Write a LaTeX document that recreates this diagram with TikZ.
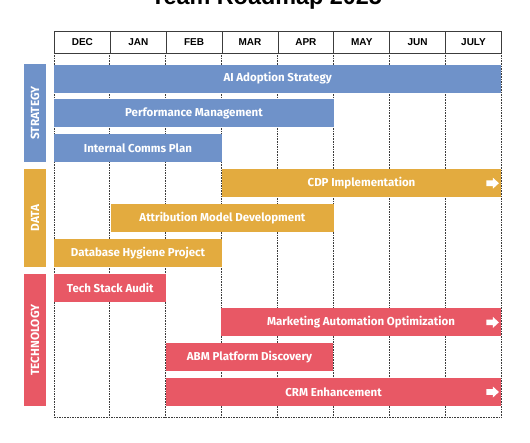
\documentclass[tikz,border=0pt]{standalone}
\usepackage{fontspec}
\setmainfont{Liberation Sans}
\newfontfamily\barfont{Fira Sans}
\definecolor{stratblue}{RGB}{111,146,201}
\definecolor{datagold}{RGB}{227,171,63}
\definecolor{techred}{RGB}{232,88,101}
\definecolor{gridgray}{RGB}{60,60,60}
\begin{document}
\begin{tikzpicture}[x=1pt,y=-1pt,
  bar/.style={rectangle, inner sep=0pt, minimum height=28pt, text=white,
    font=\barfont\bfseries\fontsize{11.5}{13.5}\selectfont, anchor=north west},
  category/.style={rectangle, inner sep=0pt, minimum height=22.3pt, text=white,
    rotate=90, font=\barfont\bfseries\fontsize{11.8}{13}\selectfont},
  month/.style={rectangle, draw=gridgray, line width=0.9pt, fill=white, inner sep=0pt,
    minimum width=55.875pt, minimum height=21.5pt, anchor=north west,
    font=\bfseries\fontsize{10}{12}\selectfont},
  gridline/.style={draw=gridgray, line width=0.8pt, dash pattern=on 1.6pt off 1pt},
  arrowtip/.pic={\fill[white] (0,0) -- (-6,-5.5) -- (-6,-2.8) -- (-12.5,-2.8)
      -- (-12.5,2.8) -- (-6,2.8) -- (-6,5.5) -- cycle;}
]
\useasboundingbox (0,0) rectangle (530,442);
\fill[white] (0,0) rectangle (530,442);

% title
\node[anchor=base, inner sep=0pt, font=\bfseries\fontsize{23.4}{26}\selectfont] (title) at (266.5,4) {Team Roadmap 2025};

% grid
\foreach \i in {0,...,8} {
  \draw[gridline] (54+\i*55.875,52.5) -- (54+\i*55.875,417.7);
}
\draw[gridline] (54,417.7) -- (501,417.7);

% header
\node[month] (dec) at (54,31) {DEC};
\node[month] (jan) at (109.875,31) {JAN};
\node[month] (feb) at (165.75,31) {FEB};
\node[month] (mar) at (221.625,31) {MAR};
\node[month] (apr) at (277.5,31) {APR};
\node[month] (may) at (333.375,31) {MAY};
\node[month] (jun) at (389.25,31) {JUN};
\node[month] (jul) at (445.125,31) {JULY};

% categories
\node[category, fill=stratblue, minimum width=97.7pt] (strategy) at (35.15,113.15) {STRATEGY};
\node[category, fill=datagold, minimum width=97.6pt] (data) at (35.15,217.8) {DATA};
\node[category, fill=techred, minimum width=132.6pt] (technology) at (35.15,340.1) {TECHNOLOGY};

% strategy bars
\node[bar, fill=stratblue, minimum width=447pt] (ai) at (54,64.3) {AI Adoption Strategy};
\node[bar, fill=stratblue, minimum width=279.4pt] (perf) at (54,99.2) {Performance Management};
\node[bar, fill=stratblue, minimum width=167.6pt] (comms) at (54,134.1) {Internal Comms Plan};

% data bars
\node[bar, fill=datagold, minimum width=279.4pt] (cdp) at (221.6,169) {CDP Implementation};
\node[bar, fill=datagold, minimum width=222.4pt] (attr) at (111,203.8) {Attribution Model Development};
\node[bar, fill=datagold, minimum width=167.6pt] (dbh) at (54,238.6) {Database Hygiene Project};

% technology bars
\node[bar, fill=techred, minimum width=112pt] (tsa) at (54,273.4) {Tech Stack Audit};
\node[bar, fill=techred, minimum width=280.5pt] (mao) at (220.5,308.2) {Marketing Automation Optimization};
\node[bar, fill=techred, minimum width=167.3pt] (abm) at (165.7,343) {ABM Platform Discovery};
\node[bar, fill=techred, minimum width=335.3pt] (crm) at (165.7,377.8) {CRM Enhancement};

% continuation arrows
\pic at ([xshift=-2.5pt]cdp.east) {arrowtip};
\pic at ([xshift=-2.5pt]mao.east) {arrowtip};
\pic at ([xshift=-2.5pt]crm.east) {arrowtip};
\end{tikzpicture}
\end{document}
